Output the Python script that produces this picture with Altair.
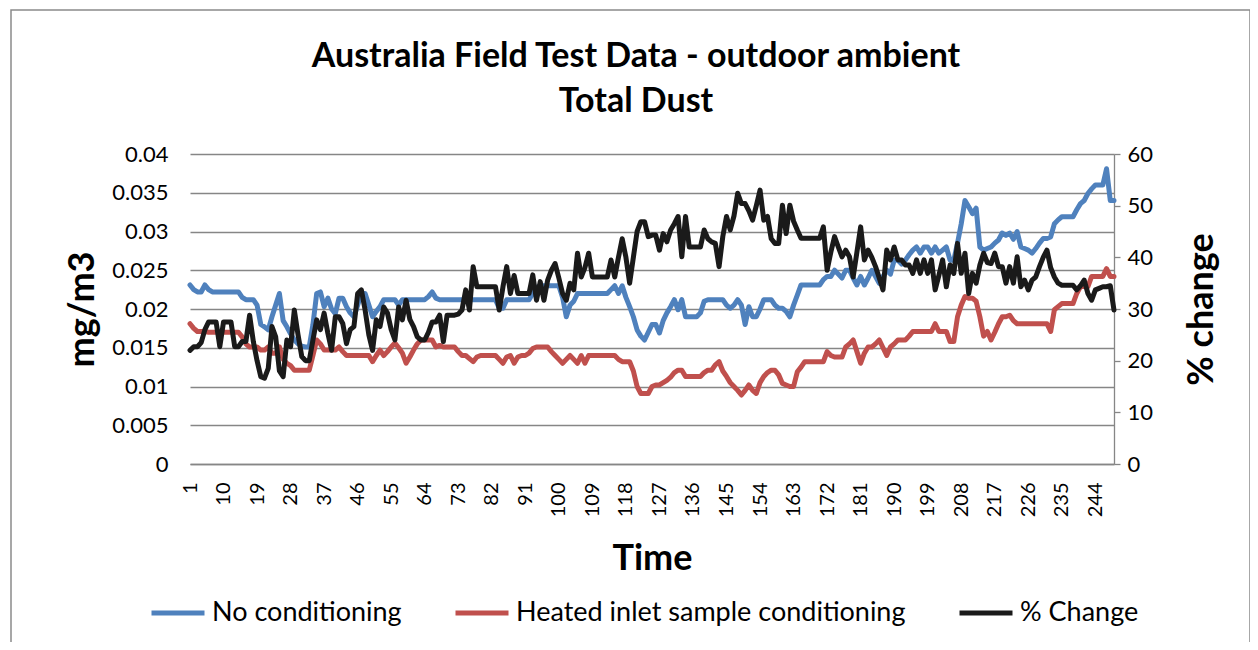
import altair as alt
import pandas as pd

# ---------------- data ----------------
t = list(range(1, 250))

no_cond = [
    .0231, .0225, .0222, .0222, .0231, .0225, .0222, .0222, .0222, .0222,
    .0222, .0222, .0222, .0222, .0215, .0212, .0212, .0212, .0205, .0180,
    .0177, .0173, .0190, .0205, .0220, .0185, .0177, .0168, .0160, .0155,
    .0152, .0151, .0151, .0180, .0220, .0222, .0203, .0214, .0200, .0194,
    .0214, .0214, .0203, .0195, .0190, .0205, .0220, .0220, .0205, .0190,
    .0197, .0203, .0212, .0212, .0212, .0212, .0205, .0212, .0212, .0212,
    .0212, .0212, .0212, .0212, .0216, .0222, .0214, .0212, .0212, .0212,
    .0212, .0212, .0212, .0212, .0212, .0212, .0212, .0212, .0212, .0212,
    .0212, .0212, .0212, .0201, .0201, .0212, .0212, .0212, .0212, .0212,
    .0212, .0212, .0220, .0228, .0230, .0230, .0230, .0230, .0230, .0230,
    .0215, .0190, .0205, .0210, .0220, .0220, .0220, .0220, .0220, .0220,
    .0220, .0220, .0220, .0225, .0230, .0220, .0230, .0215, .0203, .0190,
    .0173, .0165, .0160, .0170, .0180, .0180, .0169, .0185, .0195, .0203,
    .0212, .0199, .0212, .0190, .0190, .0190, .0190, .0195, .0210, .0212,
    .0212, .0212, .0212, .0212, .0205, .0201, .0205, .0212, .0205, .0180,
    .0203, .0190, .0190, .0200, .0212, .0212, .0212, .0205, .0201, .0201,
    .0197, .0190, .0205, .0218, .0231, .0231, .0231, .0231, .0231, .0231,
    .0238, .0242, .0242, .0250, .0245, .0240, .0250, .0250, .0240, .0231,
    .0242, .0231, .0240, .0250, .0242, .0233, .0242, .0250, .0245, .0263,
    .0263, .0258, .0263, .0270, .0276, .0280, .0272, .0280, .0280, .0272,
    .0280, .0272, .0276, .0280, .0263, .0263, .0285, .0310, .0340, .0332,
    .0323, .0330, .0280, .0276, .0278, .0280, .0285, .0289, .0298, .0295,
    .0298, .0290, .0300, .0280, .0278, .0276, .0272, .0278, .0285, .0291,
    .0291, .0293, .0310, .0315, .0319, .0319, .0319, .0319, .0328, .0336,
    .0340, .0349, .0355, .0360, .0360, .0360, .0381, .0340, .0340,
]

heated = [
    .0181, .0175, .0171, .0171, .0171, .0170, .0170, .0170, .0170, .0170,
    .0170, .0170, .0170, .0170, .0164, .0155, .0151, .0151, .0151, .0147,
    .0147, .0151, .0143, .0143, .0151, .0135, .0130, .0127, .0121, .0121,
    .0121, .0121, .0121, .0140, .0160, .0155, .0147, .0147, .0147, .0147,
    .0151, .0145, .0140, .0140, .0140, .0140, .0140, .0140, .0140, .0132,
    .0140, .0147, .0140, .0145, .0151, .0156, .0150, .0143, .0130, .0138,
    .0147, .0155, .0160, .0160, .0160, .0160, .0151, .0153, .0151, .0151,
    .0151, .0151, .0145, .0140, .0140, .0136, .0132, .0138, .0140, .0140,
    .0140, .0140, .0140, .0135, .0130, .0138, .0140, .0130, .0138, .0140,
    .0140, .0143, .0149, .0151, .0151, .0151, .0151, .0145, .0140, .0135,
    .0130, .0135, .0140, .0135, .0130, .0140, .0130, .0140, .0140, .0140,
    .0140, .0140, .0140, .0140, .0140, .0135, .0132, .0132, .0132, .0120,
    .0100, .0091, .0091, .0091, .0100, .0102, .0102, .0105, .0108, .0112,
    .0118, .0121, .0121, .0113, .0113, .0113, .0113, .0113, .0118, .0121,
    .0121, .0128, .0132, .0120, .0113, .0105, .0100, .0095, .0089, .0095,
    .0102, .0095, .0091, .0105, .0113, .0118, .0121, .0121, .0115, .0104,
    .0102, .0100, .0100, .0119, .0125, .0132, .0132, .0132, .0132, .0132,
    .0132, .0145, .0140, .0138, .0138, .0138, .0151, .0155, .0160, .0145,
    .0130, .0143, .0151, .0151, .0155, .0160, .0150, .0140, .0151, .0155,
    .0160, .0160, .0160, .0165, .0171, .0171, .0171, .0171, .0171, .0171,
    .0181, .0171, .0171, .0171, .0158, .0158, .0190, .0205, .0216, .0214,
    .0214, .0210, .0190, .0165, .0171, .0160, .0170, .0181, .0190, .0190,
    .0192, .0185, .0181, .0181, .0181, .0181, .0181, .0181, .0181, .0181,
    .0181, .0171, .0199, .0203, .0207, .0207, .0207, .0207, .0220, .0229,
    .0229, .0229, .0242, .0242, .0242, .0242, .0252, .0242, .0242,
]

pct_change = [
    22.0, 22.7, 22.7, 23.5, 26.0, 27.5, 27.5, 27.5, 22.7, 27.5,
    27.5, 27.5, 22.7, 22.7, 23.7, 23.7, 28.8, 23.7, 20.0, 16.9,
    16.6, 18.5, 26.6, 24.6, 18.0, 16.9, 24.0, 22.7, 29.8, 25.0,
    20.8, 20.0, 20.0, 24.0, 27.9, 26.0, 29.2, 25.3, 22.0, 28.5,
    28.5, 27.2, 23.3, 26.0, 26.6, 33.0, 33.7, 29.8, 25.0, 22.0,
    27.9, 26.6, 30.4, 29.2, 26.0, 24.0, 30.4, 27.9, 31.7, 28.0,
    26.6, 24.6, 24.0, 24.0, 25.5, 27.5, 27.5, 28.8, 23.7, 28.8,
    28.8, 28.8, 29.0, 29.8, 33.7, 29.8, 38.2, 34.3, 34.3, 34.3,
    34.3, 34.3, 34.3, 29.8, 34.3, 38.2, 33.0, 36.5, 33.0, 33.0,
    33.0, 33.0, 36.6, 31.7, 35.3, 31.7, 35.6, 37.5, 38.8, 36.0,
    33.0, 31.7, 35.0, 33.7, 40.8, 36.2, 38.0, 40.8, 36.2, 36.2,
    36.2, 36.2, 36.2, 39.5, 36.2, 40.0, 43.6, 40.0, 35.0, 40.0,
    45.0, 46.9, 46.9, 44.0, 44.3, 44.3, 41.4, 44.6, 43.0, 45.3,
    46.5, 47.9, 40.1, 47.9, 42.0, 42.0, 42.0, 42.0, 45.3, 43.6,
    43.0, 42.7, 38.2, 44.0, 47.9, 45.3, 48.0, 52.4, 50.4, 50.4,
    49.0, 47.2, 50.0, 53.0, 47.2, 47.9, 43.6, 42.7, 42.7, 50.1,
    44.6, 50.1, 47.0, 45.3, 43.7, 43.7, 43.7, 43.7, 43.7, 43.7,
    45.9, 37.5, 41.0, 44.0, 42.0, 40.1, 41.4, 40.1, 36.2, 41.0,
    45.9, 39.5, 41.4, 40.0, 38.2, 36.0, 33.7, 41.4, 39.5, 42.0,
    39.5, 39.5, 38.5, 38.5, 36.9, 39.5, 36.9, 39.5, 36.9, 39.5,
    33.7, 36.5, 39.5, 34.3, 38.5, 36.9, 42.7, 36.9, 40.8, 33.0,
    36.9, 35.0, 38.5, 40.8, 39.0, 38.8, 40.8, 38.2, 38.2, 35.0,
    38.2, 35.0, 40.1, 34.3, 35.6, 33.7, 35.6, 36.2, 38.2, 40.0,
    41.4, 38.0, 36.2, 35.0, 34.6, 34.6, 34.6, 34.6, 33.7, 34.5,
    35.6, 33.0, 31.7, 33.7, 34.0, 34.3, 34.3, 34.5, 29.8,
]

series_names = ["No conditioning", "Heated inlet sample conditioning", "% Change"]
series_colors = ["#4F81BD", "#C0504D", "#1A1A1A"]
x_tick_values = list(range(1, 250, 9))
left_ticks = [0, 0.005, 0.01, 0.015, 0.02, 0.025, 0.03, 0.035, 0.04]
right_ticks = [0, 10, 20, 30, 40, 50, 60]
title_lines = ["Australia Field Test Data - outdoor ambient", "Total Dust"]

# ---------------- tables ----------------
left_df = pd.DataFrame({
    "t": t + t,
    "value": no_cond + heated,
    "series": [series_names[0]] * len(t) + [series_names[1]] * len(t),
    "order": [0] * len(t) + [1] * len(t),
})
right_df = pd.DataFrame({"t": t, "value": pct_change, "series": series_names[2]})

FONT = "Lato"

color = alt.Color(
    "series:N",
    scale=alt.Scale(domain=series_names, range=series_colors),
    legend=alt.Legend(
        title=None, orient="none", legendX=-41, legendY=430,
        direction="horizontal", symbolType="stroke", symbolSize=2809,
        symbolStrokeWidth=5, labelFont=FONT, labelFontSize=27,
        labelColor="#000000", columnPadding=43, labelOffset=5,
        labelLimit=600,
    ),
)

x_enc = alt.X(
    "t:Q",
    scale=alt.Scale(domain=[1, 249], nice=False, zero=False),
    axis=alt.Axis(
        values=x_tick_values, labelAngle=-90, title="Time", ticks=False,
        grid=False, domainColor="#868686", domainWidth=1.3,
        labelFont=FONT, labelFontSize=20, labelColor="#000000",
        labelPadding=18, labelOverlap=False, labelFlush=False,
        titleFont=FONT, titleFontSize=36, titleFontWeight="bold",
        titleColor="#000000", titlePadding=25,
    ),
)

line_style = dict(strokeWidth=5, strokeJoin="round", strokeCap="round")

left = alt.Chart(left_df).mark_line(**line_style).encode(
    x=x_enc,
    y=alt.Y(
        "value:Q",
        scale=alt.Scale(domain=[0, 0.04], nice=False, zero=True),
        axis=alt.Axis(
            orient="left", values=left_ticks, format="~g", title="mg/m3",
            grid=True, gridColor="#868686", gridWidth=1.3, domain=False,
            ticks=False, labelFont=FONT, labelFontSize=22,
            labelColor="#000000", labelPadding=22,
            titleFont=FONT, titleFontSize=36, titleFontWeight="bold",
            titleColor="#000000", titlePadding=10,
        ),
    ),
    color=color,
    order="order:Q",
)

right = alt.Chart(right_df).mark_line(**line_style).encode(
    x=x_enc,
    y=alt.Y(
        "value:Q",
        scale=alt.Scale(domain=[0, 60], nice=False, zero=True),
        axis=alt.Axis(
            orient="right", values=right_ticks, title="% change",
            grid=False, domain=True, domainColor="#868686", domainWidth=1.3,
            ticks=True, tickColor="#868686", tickSize=6, tickWidth=1.3,
            labelFont=FONT, labelFontSize=22, labelColor="#000000",
            labelPadding=7, titleFont=FONT, titleFontSize=36,
            titleFontWeight="bold", titleColor="#000000",
            titleAngle=-90, titleBaseline="top", titlePadding=32,
        ),
    ),
    color=color,
)

# outer chart-area border (decoration only)
frame = alt.Chart(pd.DataFrame({"k": [0]})).mark_rect(
    fill=None, stroke="#8a8a8a", strokeWidth=1.5
).encode(
    x=alt.value(11 - 190), x2=alt.value(1250 - 190),
    y=alt.value(10 - 154), y2=alt.value(700 - 154),
)

chart = alt.layer(frame, left, right).resolve_scale(
    y="independent"
).properties(
    width=924,
    height=310,
    title=alt.TitleParams(
        text=title_lines, font=FONT, fontSize=34, fontWeight="bold",
        color="#000000", anchor="middle", frame="group", lineHeight=45,
        offset=-110, dx=-16,
    ),
    autosize=alt.AutoSizeParams(type="none"),
    padding={"left": 182, "top": 146, "right": 136, "bottom": 178},
).configure_view(stroke=None)

chart.save("out.html", embed_options={"renderer": "svg", "actions": False})
